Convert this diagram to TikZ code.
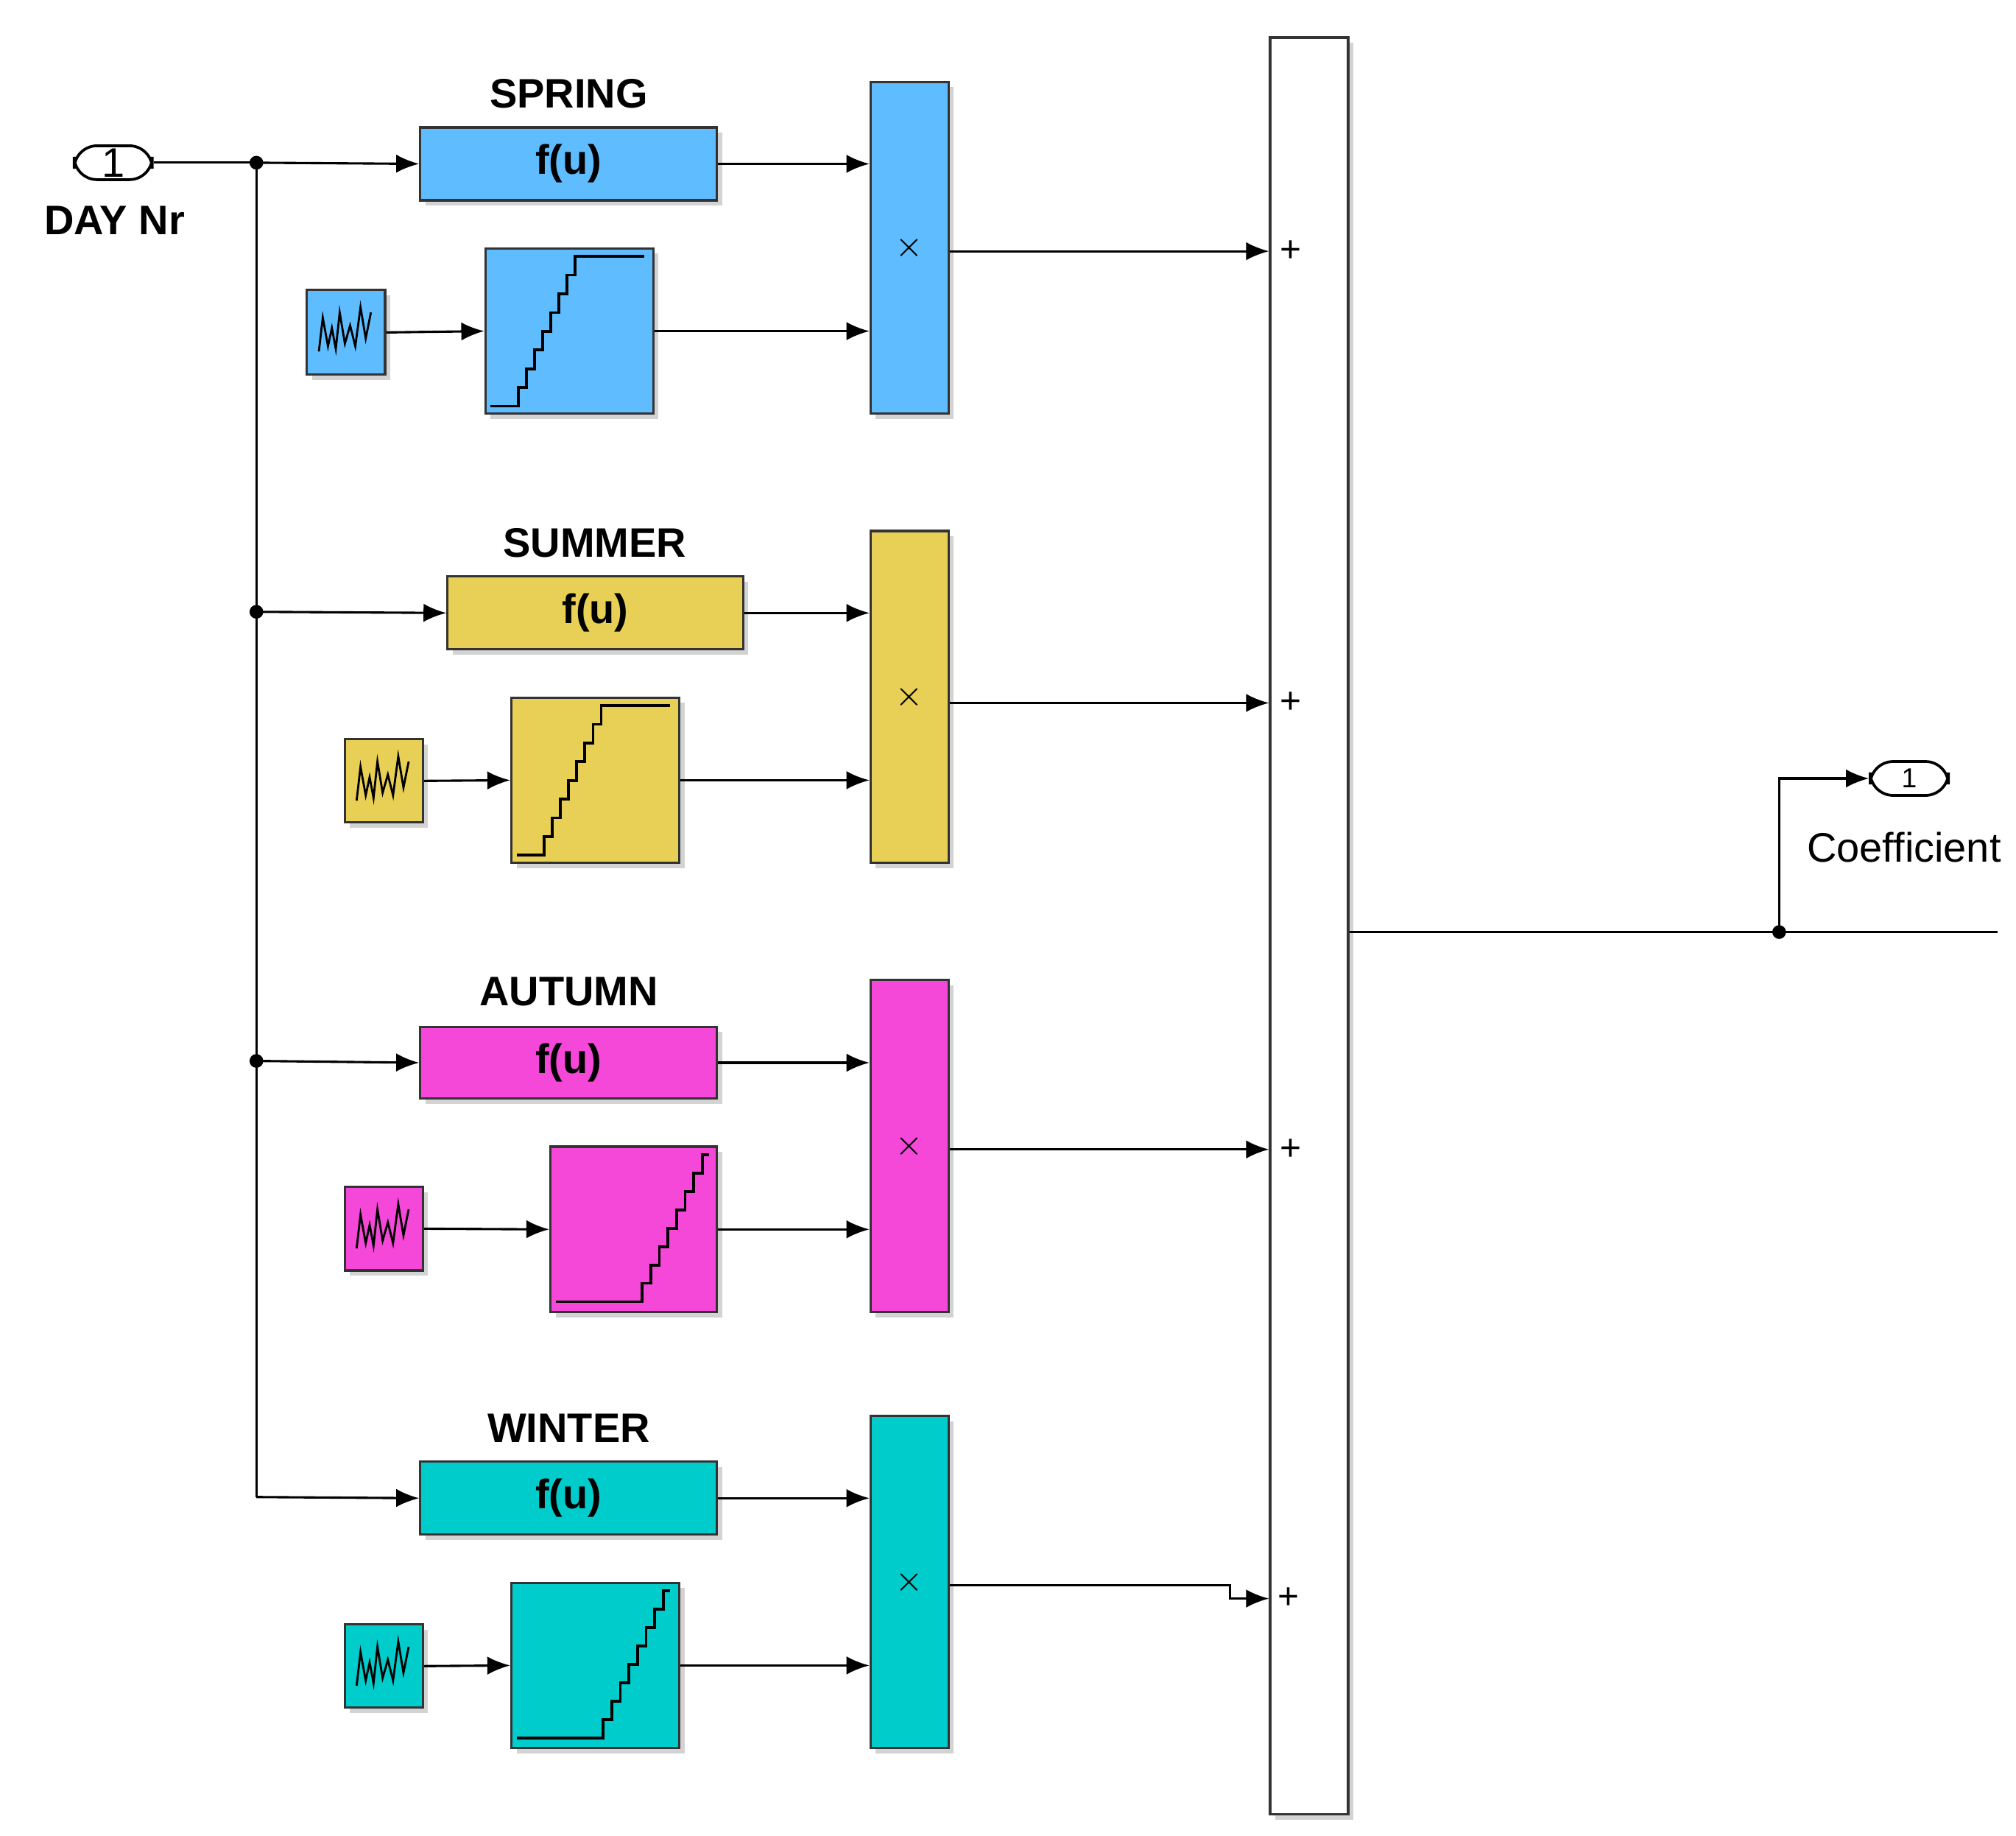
\documentclass[tikz,border=0pt]{standalone}
\usepackage{fontspec}
\setmainfont{Liberation Sans}
\usetikzlibrary{shadows,arrows.meta}
\definecolor{cspr}{HTML}{5EBCFF}
\definecolor{csum}{HTML}{E8CF55}
\definecolor{caut}{HTML}{F548D8}
\definecolor{cwin}{HTML}{00CCCC}
\tikzset{
 box/.style={draw=black!80, line width=0.5pt, drop shadow={shadow xshift=0.04cm,shadow yshift=-0.04cm,opacity=0.35}, inner sep=0},
 wire/.style={line width=0.5pt, -{Latex[length=5pt,width=4pt]}},
 line/.style={line width=0.5pt},
 dot/.style={circle, fill=black, inner sep=0, minimum size=3pt},
 ttl/.style={font=\bfseries\fontsize{9}{11}\selectfont},
 port/.style={draw, rounded corners=5pt, line width=0.6pt, minimum width=0.6cm, minimum height=0.26cm, inner sep=0},
}
\newcommand\blk[7]{\node[box, fill=#6, anchor=north west, minimum width={(#4-#2)*0.01cm}, minimum height={(#5-#3)*0.01cm}, font=\bfseries\fontsize{9}{11}\selectfont] (#1) at (#2,#3) {#7};}
\newcommand\noise[2]{\draw[line width=0.45pt] (#1-20,#2+16) -- (#1-17,#2-10) -- (#1-13,#2+12) -- (#1-10,#2-2) -- (#1-7,#2+14) -- (#1-4,#2-14) -- (#1,#2+10) -- (#1+4,#2-4) -- (#1+8,#2+12) -- (#1+12,#2-18) -- (#1+16,#2+6) -- (#1+20,#2-14);}
% stairs: x start flat, x rise start, y bottom, x rise end, y top, x end flat
\newcommand\stairs[6]{%
 \draw[line width=0.6pt] (#1,#3) -- (#2,#3);
 \draw[line width=0.6pt] (#4,#5) -- (#6,#5);
 \foreach \k in {1,...,8}{%
   \pgfmathsetmacro\xa{#2+(#4-#2)*(\k-1)/8}
   \pgfmathsetmacro\xm{#2+(#4-#2)*(\k-0.5)/8}
   \pgfmathsetmacro\xb{#2+(#4-#2)*\k/8}
   \pgfmathsetmacro\ya{#3+(#5-#3)*(\k-1)/8}
   \pgfmathsetmacro\yb{#3+(#5-#3)*\k/8}
   \draw[line width=0.6pt] (\xa,\ya) -- (\xm,\ya) -- (\xm,\yb) -- (\xb,\yb);
 }}
\begin{document}
\begin{tikzpicture}[x=0.01cm,y=-0.01cm]
\useasboundingbox (0,0) rectangle (1549,1410);
% inport
\node[port] (in) at (87,125) {\fontsize{9}{10}\selectfont 1};
\node[font=\bfseries\fontsize{9}{11}\selectfont, anchor=north] at (88,146) {DAY Nr};
% sum
\blk{sum}{975}{28}{1035}{1393}{white}{}
% SPRING
\node[ttl] at (437,72) {SPRING};
\blk{fs}{322}{97}{550}{153}{cspr}{f(u)}
\blk{rs}{235}{222}{295}{287}{cspr}{}
\blk{ls}{372}{190}{501}{317}{cspr}{}
\blk{ps}{668}{62}{728}{317}{cspr}{\fontsize{7}{8}\selectfont$\times$}
\noise{265}{254}
\stairs{377}{395}{312}{445}{197}{495}
% SUMMER
\node[ttl] at (457,417) {SUMMER};
\blk{fm}{343}{442}{570}{498}{csum}{f(u)}
\blk{rm}{264}{567}{324}{631}{csum}{}
\blk{lm}{392}{535}{521}{662}{csum}{}
\blk{pm}{668}{407}{728}{662}{csum}{\fontsize{7}{8}\selectfont$\times$}
\noise{294}{599}
\stairs{397}{415}{657}{465}{542}{515}
% AUTUMN
\node[ttl] at (437,762) {AUTUMN};
\blk{fa}{322}{788}{550}{843}{caut}{f(u)}
\blk{ra}{264}{911}{324}{975}{caut}{}
\blk{la}{422}{880}{550}{1007}{caut}{}
\blk{pa}{668}{752}{728}{1007}{caut}{\fontsize{7}{8}\selectfont$\times$}
\noise{294}{943}
\stairs{427}{490}{1000}{543}{887}{545}
% WINTER
\node[ttl] at (437,1097) {WINTER};
\blk{fw}{322}{1122}{550}{1178}{cwin}{f(u)}
\blk{rw}{264}{1247}{324}{1311}{cwin}{}
\blk{lw}{392}{1215}{521}{1342}{cwin}{}
\blk{pw}{668}{1087}{728}{1342}{cwin}{\fontsize{7}{8}\selectfont$\times$}
\noise{294}{1279}
\stairs{397}{460}{1335}{513}{1222}{515}
% outport
\node[port] (out) at (1467,598) {\fontsize{6}{7}\selectfont 1};
\node[font=\fontsize{9}{11}\selectfont, anchor=north] at (1463,627) {Coefficient};
% junctions
\coordinate (j1) at (197,125);
\coordinate (j2) at (197,470);
\coordinate (j3) at (197,815);
\coordinate (j4) at (197,1150);
\node[dot] at (j1) {}; \node[dot] at (j2) {}; \node[dot] at (j3) {};
\draw[line] (in.east) -- (j1);
\draw[wire] (j1) -- (fs.west);
\draw[line] (j1) -- (j4);
\draw[wire] (j2) -- (fm.west);
\draw[wire] (j3) -- (fa.west);
\draw[wire] (j4) -- (fw.west);
% per season wiring
\foreach \f/\r/\l/\p/\y in {fs/rs/ls/ps/193, fm/rm/lm/pm/540, fa/ra/la/pa/883}{
  \draw[wire] (\f.east) -- (\f.east -| \p.west);
  \draw[wire] (\r.east) -- (\l.west);
  \draw[wire] (\l.east) -- (\l.east -| \p.west);
  \draw[wire] (\p.east |- 0,\y) -- (sum.west |- 0,\y);
  \node[font=\fontsize{8}{9}\selectfont] at (992,\y) {+};
}
\draw[wire] (fw.east) -- (fw.east -| pw.west);
\draw[wire] (rw.east) -- (lw.west);
\draw[wire] (lw.east) -- (lw.east -| pw.west);
\draw[wire] (pw.east |- 0,1218) -- (945,1218) -- (945,1228) -- (sum.west |- 0,1228);
\node[font=\fontsize{8}{9}\selectfont] at (990,1228) {+};
% output
\coordinate (j5) at (1367,716);
\coordinate (oe) at (1535,716);
\node[dot] at (j5) {};
\draw[line] (sum.east |- j5) -- (oe);
\draw[wire] (j5) |- (out.west);
\end{tikzpicture}
\end{document}
